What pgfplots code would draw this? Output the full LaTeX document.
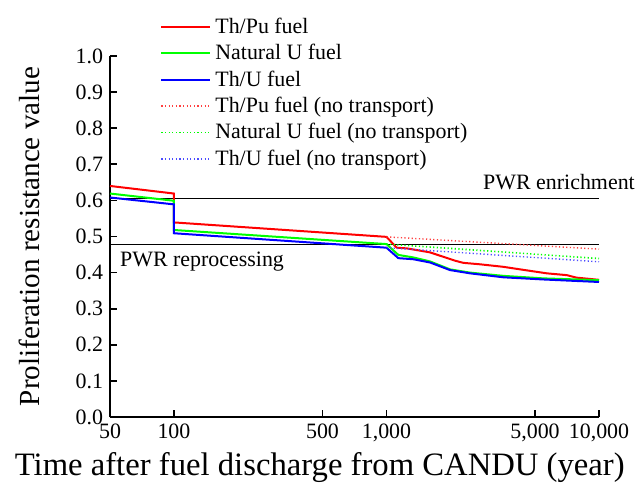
\documentclass[border=0pt]{standalone}
\usepackage{fontspec}
\setmainfont{Liberation Serif}
\usepackage{pgfplots}
\pgfplotsset{compat=1.18}

\begin{document}
\begin{tikzpicture}
\begin{axis}[
    scale only axis,
    width=244.5bp, height=180.5bp,
    xmode=log, log basis x=10,
    xmin=50, xmax=10000, ymin=0, ymax=1,
    clip=false,
    axis x line*=bottom, axis y line*=left,
    axis line style={line width=0.8bp, -},
    tick align=inside,
    major tick length=3.5bp,
    tick style={line width=0.8bp, black},
    xminorticks=false,
    xtick={50,100,500,1000,5000,10000},
    xticklabels={50,100,500,{1,000},{5,000},{10,000}},
    ytick={0,0.1,0.2,0.3,0.4,0.5,0.6,0.7,0.8,0.9,1.0},
    yticklabel style={/pgf/number format/.cd, fixed, fixed zerofill, precision=1, assume math mode=true},
    tick label style={font=\fontsize{11}{13}\selectfont},
    xlabel={Time after fuel discharge from CANDU (year)},
    ylabel={Proliferation resistance value},
    xlabel style={font=\fontsize{16.4}{19}\selectfont, at={(axis description cs:0.429,-0.141)}, anchor=center},
    ylabel style={font=\fontsize{14.6}{17}\selectfont, at={(axis description cs:-0.164,0.5)}, anchor=center},
    legend cell align=left,
    legend style={draw=none, fill=none, font=\fontsize{11}{13}\selectfont,
        at={(axis description cs:0.09,1.129)}, anchor=north west,
        row sep=0bp},
    legend image code/.code={\draw[#1] (0bp,0bp) -- (24.5bp,0bp);},
]

% horizontal reference levels
\addplot[black, line width=0.5bp, forget plot] coordinates {(50,0.605) (10000,0.605)};
\addplot[black, line width=0.5bp, forget plot] coordinates {(50,0.479) (10000,0.479)};

\addplot[red, line width=1bp] coordinates {
    (50,0.640) (100,0.619) (100,0.539) (1000,0.499) (1117,0.469) (1250,0.467)
    (1603,0.456) (2101,0.433) (2300,0.427) (2754,0.423) (3546,0.416)
    (4250,0.409) (5675,0.398) (7046,0.393) (7850,0.386) (10000,0.380)
};
\addlegendentry{Th/Pu fuel}

\addplot[green, line width=1bp] coordinates {
    (50,0.619) (100,0.599) (100,0.518) (1000,0.479) (1137,0.449) (1337,0.442)
    (1603,0.431) (1990,0.409) (2470,0.400) (3546,0.391) (5470,0.384) (10000,0.379)
};
\addlegendentry{Natural U fuel}

\addplot[blue, line width=1bp] coordinates {
    (50,0.608) (100,0.589) (100,0.509) (1000,0.469) (1137,0.440) (1337,0.437)
    (1603,0.428) (1990,0.407) (2470,0.398) (3546,0.387) (5470,0.381) (10000,0.374)
};
\addlegendentry{Th/U fuel}

\addplot[red!75, line width=0.7bp, dash pattern=on 0.6bp off 1.2bp] coordinates {(1000,0.499) (10000,0.465)};
\addlegendentry{Th/Pu fuel (no transport)}

\addplot[green, line width=0.8bp, dash pattern=on 0.6bp off 1.2bp] coordinates {(1000,0.479) (10000,0.439)};
\addlegendentry{Natural U fuel (no transport)}

\addplot[blue!70, line width=0.7bp, dash pattern=on 0.6bp off 1.2bp] coordinates {(1000,0.469) (10000,0.430)};
\addlegendentry{Th/U fuel (no transport)}

\node[anchor=base east, font=\fontsize{11}{13}\selectfont, inner sep=0pt] at (rel axis cs:1.074,0.629) {PWR enrichment};
\node[anchor=base west, font=\fontsize{11}{13}\selectfont, inner sep=0pt] at (rel axis cs:0.02,0.418) {PWR reprocessing};
\end{axis}
\pgfresetboundingbox
\path (-55bp,-35.5bp) rectangle (265bp,208.5bp);
\end{tikzpicture}
\end{document}
